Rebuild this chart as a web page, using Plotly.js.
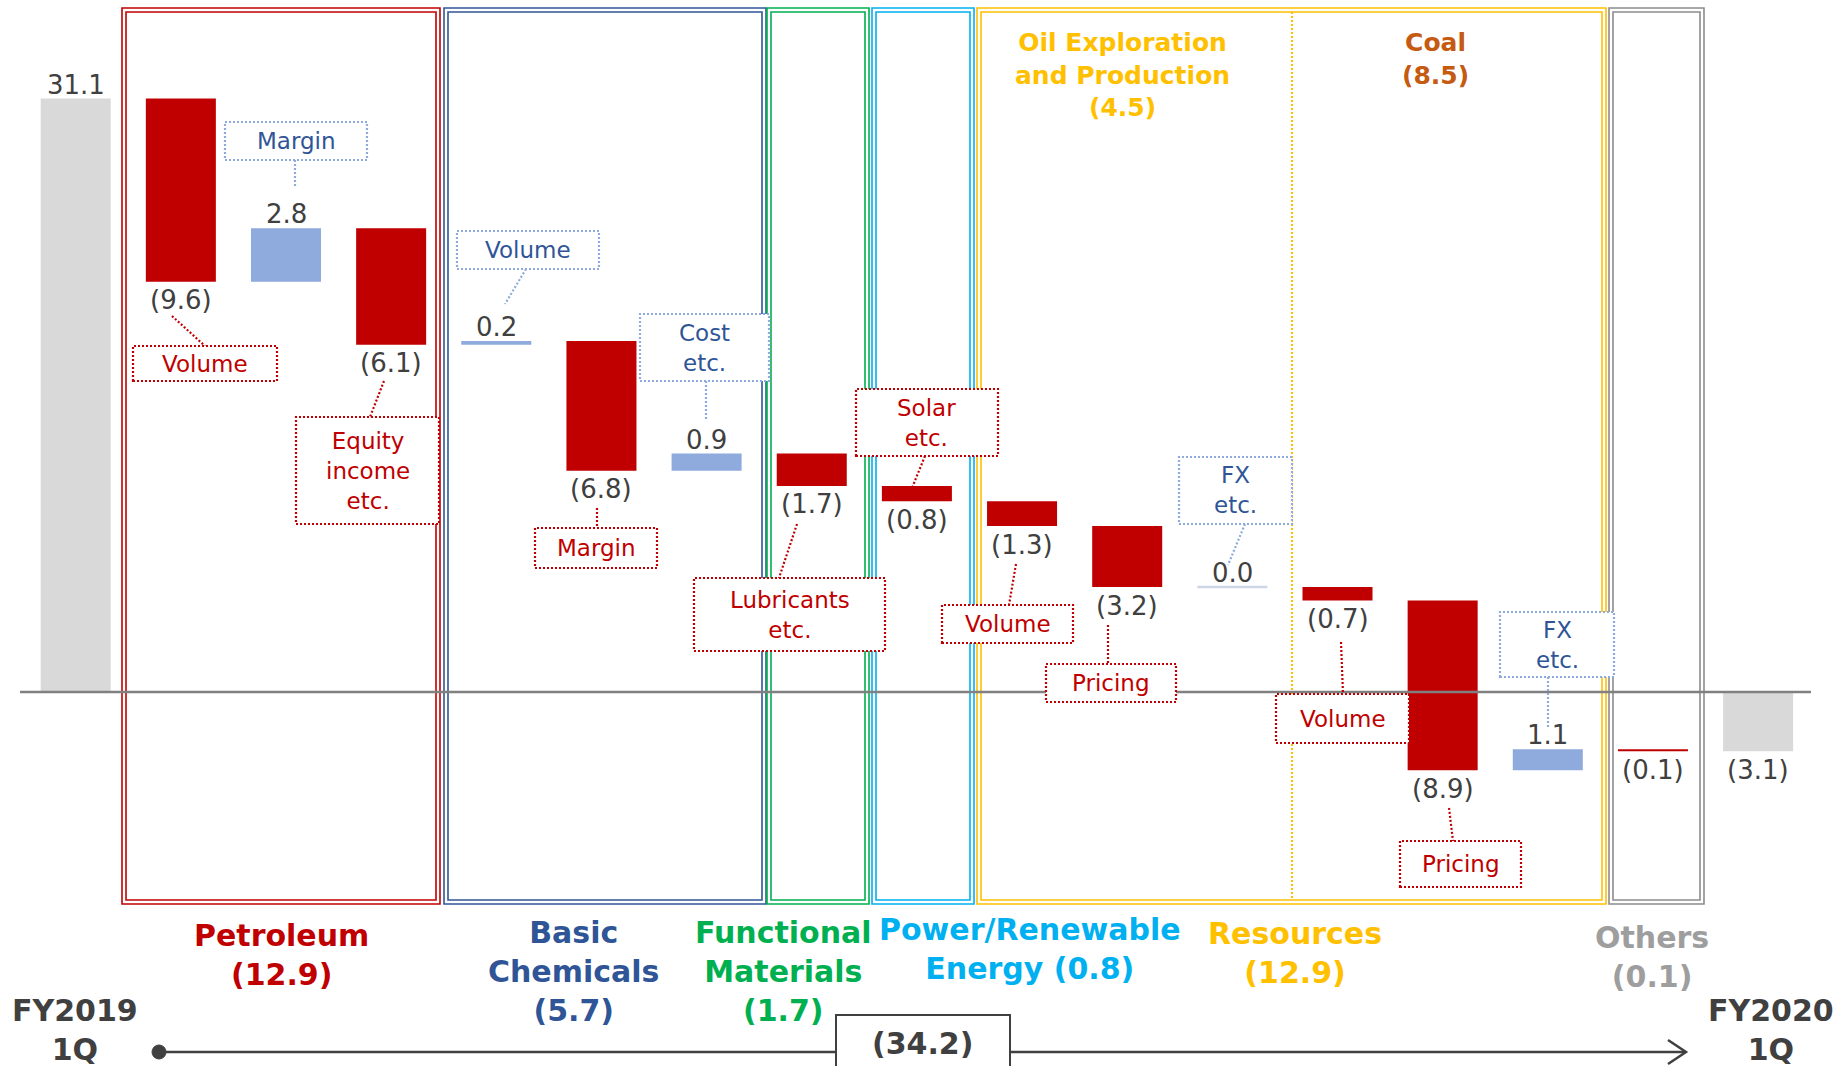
<!DOCTYPE html>
<html><head><meta charset="utf-8">
<script src="https://cdn.plot.ly/plotly-3.0.1.min.js"></script>
<style>html,body{margin:0;padding:0;background:#fff;overflow:hidden}</style>
</head><body>
<div id="chart" style="width:1837px;height:1066px"></div>
<script>
// ---------------- data ----------------
const steps = ['FY2019 1Q','Volume','Margin','Equity income etc.','Volume','Margin','Cost etc.',
  'Lubricants etc.','Solar etc.','Volume','Pricing','FX etc.','Volume','Pricing','FX etc.','Others','FY2020 1Q'];
const changes = [31.1,-9.6,2.8,-6.1,0.2,-6.8,0.9,-1.7,-0.8,-1.3,-3.2,0.0,-0.7,-8.9,1.1,-0.1,-3.1];
const measures = ['absolute','relative','relative','relative','relative','relative','relative',
  'relative','relative','relative','relative','relative','relative','relative','relative','relative','total'];
const segmentLabels = ['Petroleum<br>(12.9)','Basic<br>Chemicals<br>(5.7)','Functional<br>Materials<br>(1.7)',
  'Power/Renewable<br>Energy (0.8)','Resources<br>(12.9)','Others<br>(0.1)'];
const subSegmentLabels = ['Oil Exploration<br>and Production<br>(4.5)','Coal<br>(8.5)'];
const periodLabels = ['FY2019<br>1Q','FY2020<br>1Q'];
const totalChangeLabel = '(34.2)';
const calloutTexts = ['Margin','Volume','Cost<br>etc.','FX<br>etc.','FX<br>etc.',
  'Volume','Equity<br>income<br>etc.','Margin','Lubricants<br>etc.','Solar<br>etc.','Volume','Pricing','Volume','Pricing'];

// ---------------- styling / layout ----------------
const W = 1837, H = 1066;
const px = x => x / W, py = y => 1 - y / H;
const RED = '#C00000', LBLUE = '#8FAADC', DBLUE = '#2F5597', GRAY = '#D9D9D9', TXT = '#404040';

// build waterfall bars from the data
let level = 0;
const bases = [], heights = [], colors = [];
measures.forEach((m, i) => {
  if (m === 'absolute') { bases.push(0); heights.push(changes[i]); level = changes[i]; colors.push(GRAY); }
  else if (m === 'total') { bases.push(0); heights.push(level); colors.push(GRAY); }
  else { bases.push(level); heights.push(changes[i]); level += changes[i]; colors.push(changes[i] < 0 ? RED : LBLUE); }
});
const xs = steps.map((_, i) => i);
const BW = 0.666;

const traces = [{
  type: 'bar', x: xs, y: heights, base: bases, width: BW,
  marker: { color: colors, line: { width: 0 } }, hoverinfo: 'skip', showlegend: false
}];
// zero-change steps drawn as a flat line
xs.forEach(i => {
  if (Math.abs(heights[i]) < 0.05 && measures[i] === 'relative') {
    traces.push({ type: 'scatter', mode: 'lines', x: [i - BW / 2, i + BW / 2], y: [bases[i], bases[i]],
      line: { color: '#CDD6E4', width: 2.5 }, hoverinfo: 'skip', showlegend: false });
  }
});

const fmt = v => v < 0 ? '(' + Math.abs(v).toFixed(1) + ')' : v.toFixed(1);
const annotations = [];
xs.forEach(i => {
  const v = changes[i];
  const top = Math.max(bases[i], bases[i] + heights[i]);
  const bot = Math.min(bases[i], bases[i] + heights[i]);
  const neg = v < 0;
  annotations.push({ x: i, y: neg ? bot : top, xref: 'x', yref: 'y', text: fmt(v), showarrow: false,
    yanchor: neg ? 'top' : 'bottom', yshift: neg ? -1.5 : -3,
    font: { family: 'DejaVu Sans', size: 26, color: TXT } });
});

const shapes = [];
// segment boxes (double line)
const segBoxes = [[122, 440, RED], [444, 766, DBLUE], [767, 869, '#00B050'], [872, 974, '#00B0F0'],
  [977, 1606, '#FFC000'], [1609, 1704, '#8C8C8C']];
segBoxes.forEach(([x0, x1, c]) => {
  shapes.push({ type: 'rect', xref: 'paper', yref: 'paper', x0: px(x0), x1: px(x1), y0: py(904), y1: py(8),
    line: { color: c, width: 1.6 }, layer: 'below' });
  shapes.push({ type: 'rect', xref: 'paper', yref: 'paper', x0: px(x0 + 4), x1: px(x1 - 4), y0: py(900), y1: py(12),
    line: { color: c, width: 1.6 }, layer: 'below' });
});
// resources divider
shapes.push({ type: 'line', xref: 'paper', yref: 'paper', x0: px(1292), x1: px(1292), y0: py(12), y1: py(900),
  line: { color: '#FFC000', width: 2, dash: '2px,2px' }, layer: 'below' });
// zero line
shapes.push({ type: 'line', xref: 'paper', yref: 'y', x0: px(20), x1: px(1811), y0: 0, y1: 0,
  line: { color: '#808080', width: 2.5 } });

// callouts: [x0,y0,x1,y1, connector x0,y0,x1,y1, red?]
const calloutGeom = [
  [225,122,367,160, 295,160,295,186, 0],
  [457,231,599,269, 526,269,505,304, 0],
  [640,314,769,381, 706,381,706,420, 0],
  [1179,457,1292,524, 1245,524,1228,565, 0],
  [1500,612,1614,677, 1548,677,1548,728, 0],
  [133,346,277,381, 172,316,205,346, 1],
  [296,417,439,524, 384,381,370,417, 1],
  [535,528,657,568, 597,508,597,528, 1],
  [694,578,885,651, 797,524,779,578, 1],
  [856,389,998,456, 925,456,912,488, 1],
  [942,605,1073,643, 1016,564,1009,605, 1],
  [1046,664,1176,702, 1108,625,1108,664, 1],
  [1276,694,1409,743, 1341,642,1343,694, 1],
  [1400,841,1521,887, 1449,808,1453,841, 1]
];
calloutGeom.forEach((g, k) => {
  const bc = g[8] ? RED : LBLUE, tc = g[8] ? RED : DBLUE;
  shapes.push({ type: 'line', xref: 'paper', yref: 'paper', x0: px(g[4]), y0: py(g[5]), x1: px(g[6]), y1: py(g[7]),
    line: { color: bc, width: 2.2, dash: '2px,2px' } });
  shapes.push({ type: 'rect', xref: 'paper', yref: 'paper', x0: px(g[0]), y0: py(g[3]), x1: px(g[2]), y1: py(g[1]),
    fillcolor: '#FFFFFF', line: { color: bc, width: 2.2, dash: '2px,2px' } });
  annotations.push({ xref: 'paper', yref: 'paper', x: px((g[0] + g[2]) / 2), y: py((g[1] + g[3]) / 2),
    text: calloutTexts[k], showarrow: false, xanchor: 'center', yanchor: 'middle',
    font: { family: 'DejaVu Sans', size: 23, color: tc } });
});

// bottom timeline
shapes.push({ type: 'line', xref: 'paper', yref: 'paper', x0: px(159), x1: px(1686), y0: py(1052), y1: py(1052),
  line: { color: TXT, width: 2.5 } });
shapes.push({ type: 'circle', xref: 'paper', yref: 'paper', x0: px(152), x1: px(166), y0: py(1059), y1: py(1045),
  fillcolor: TXT, line: { color: TXT, width: 1 } });
shapes.push({ type: 'path', xref: 'paper', yref: 'paper',
  path: `M ${px(1668)} ${py(1040)} L ${px(1686)} ${py(1052)} L ${px(1668)} ${py(1064)}`,
  line: { color: TXT, width: 2.5 } });
shapes.push({ type: 'rect', xref: 'paper', yref: 'paper', x0: px(836), x1: px(1010), y0: py(1080), y1: py(1015),
  fillcolor: '#FFFFFF', line: { color: TXT, width: 2 } });
annotations.push({ xref: 'paper', yref: 'paper', x: px(922), y: py(1043), text: '<b>' + totalChangeLabel + '</b>',
  showarrow: false, xanchor: 'center', yanchor: 'middle', font: { family: 'DejaVu Sans', size: 30, color: TXT } });

// segment labels
const segLabelPos = [[281, 955, RED], [573, 971, DBLUE], [783, 971, '#00B050'], [1030, 949, '#00B0F0'],
  [1295, 953, '#FFC000'], [1652, 957, '#9E9E9E']];
segmentLabels.forEach((t, k) => {
  const p = segLabelPos[k];
  annotations.push({ xref: 'paper', yref: 'paper', x: px(p[0]), y: py(p[1]), text: '<b>' + t + '</b>',
    showarrow: false, xanchor: 'center', yanchor: 'middle', align: 'center',
    font: { family: 'DejaVu Sans', size: 30, color: p[2] } });
});
const subPos = [[1122, 75, '#FFC000'], [1435, 59, '#C55A11']];
subSegmentLabels.forEach((t, k) => {
  const p = subPos[k];
  annotations.push({ xref: 'paper', yref: 'paper', x: px(p[0]), y: py(p[1]), text: '<b>' + t + '</b>',
    showarrow: false, xanchor: 'center', yanchor: 'middle', align: 'center',
    font: { family: 'DejaVu Sans', size: 25, color: p[2] } });
});
const perPos = [[75, 1030], [1771, 1030]];
periodLabels.forEach((t, k) => {
  annotations.push({ xref: 'paper', yref: 'paper', x: px(perPos[k][0]), y: py(perPos[k][1]), text: '<b>' + t + '</b>',
    showarrow: false, xanchor: 'center', yanchor: 'middle', align: 'center',
    font: { family: 'DejaVu Sans', size: 30, color: TXT } });
});

const X0 = 75.7, DX = 105.15, Y0 = 692, DY = 19.08;
const layout = {
  width: W, height: H, autosize: false,
  margin: { l: 0, r: 0, t: 0, b: 0, pad: 0 },
  paper_bgcolor: '#FFFFFF', plot_bgcolor: '#FFFFFF',
  xaxis: { range: [-X0 / DX, (W - X0) / DX], visible: false, fixedrange: true },
  yaxis: { range: [-(H - Y0) / DY, Y0 / DY], visible: false, fixedrange: true },
  barmode: 'overlay', showlegend: false,
  shapes: shapes, annotations: annotations
};
Plotly.newPlot('chart', traces, layout, { staticPlot: true, displayModeBar: false });
</script>
</body></html>
